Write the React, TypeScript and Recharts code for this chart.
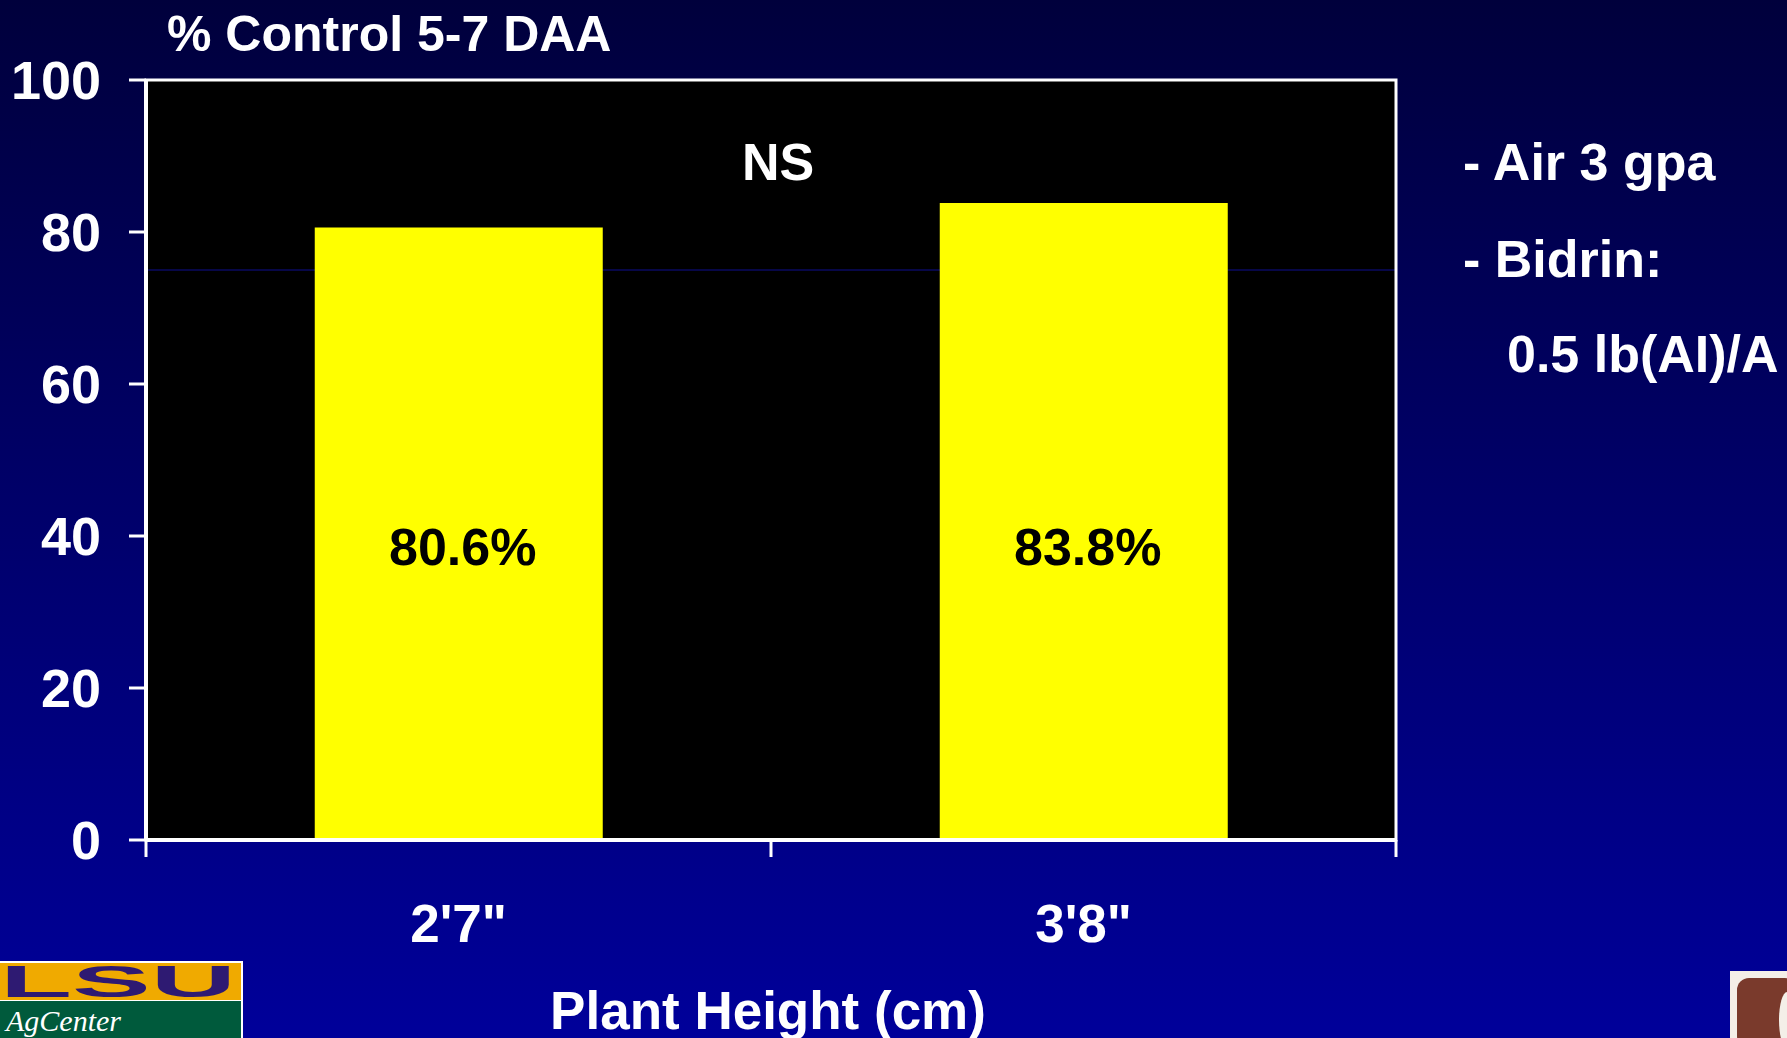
import React from 'react';
import { BarChart, Bar, XAxis, YAxis, CartesianGrid, LabelList, ReferenceArea } from 'recharts';

const categories = ["2'7\"", "3'8\""];
const controlValues = [80.6, 83.8];
const valueLabels = ['80.6%', '83.8%'];
const yTicks = [0, 20, 40, 60, 80, 100];
const gridValues = [75];
const title = '% Control 5-7 DAA';
const xTitle = 'Plant Height (cm)';
const sigLabel = 'NS';
const notes = ['- Air 3 gpa', '- Bidrin:', '0.5 lb(AI)/A'];

const data = categories.map((c, i) => ({ name: c, value: controlValues[i], label: valueLabels[i] }));

const W = 1787;
const H = 1038;
const FONT = '"Liberation Sans", Arial, sans-serif';
const TICK_LEN = 17;

const XTick = (props: any) => {
  const { x, y, payload, width, visibleTicksCount, index } = props;
  const n = visibleTicksCount || categories.length;
  const half = width / n / 2;
  return (
    <g>
      <line x1={x - half} x2={x - half} y1={y} y2={y + TICK_LEN} stroke="#fff" strokeWidth={3} />
      {index === n - 1 && (
        <line x1={x + half} x2={x + half} y1={y} y2={y + TICK_LEN} stroke="#fff" strokeWidth={3} />
      )}
      <text x={x} y={y + 83} textAnchor="middle" dominantBaseline="central" fill="#fff"
        fontSize={53} fontWeight="bold" fontFamily={FONT}>
        {payload.value}
      </text>
    </g>
  );
};

const BarLabel = (props: any) => {
  const { x, y, width, height, value } = props;
  return (
    <text x={x + width / 2 + 4} y={y + height - 293} textAnchor="middle" dominantBaseline="central"
      fill="#000" fontSize={52} fontWeight="bold" fontFamily={FONT}>
      {value}
    </text>
  );
};

export default function App() {
  return (
    <div style={{ position: 'fixed', left: 0, top: 0, width: W, height: H, overflow: 'hidden' }}>
      <svg width={W} height={H} style={{ position: 'absolute', left: 0, top: 0 }}>
        <defs>
          <linearGradient id="bg" x1="0" y1="0" x2="0" y2="1">
            <stop offset="0%" stopColor="#00003c" />
            <stop offset="100%" stopColor="#00009a" />
          </linearGradient>
        </defs>
        <rect x={0} y={0} width={W} height={H} fill="url(#bg)" />
        <text x={167} y={34} dominantBaseline="central" fill="#fff" fontSize={50} fontWeight="bold" fontFamily={FONT}>{title}</text>
        <text x={1463} y={162} dominantBaseline="central" fill="#fff" fontSize={52} fontWeight="bold" fontFamily={FONT}>{notes[0]}</text>
        <text x={1463} y={259} dominantBaseline="central" fill="#fff" fontSize={52} fontWeight="bold" fontFamily={FONT}>{notes[1]}</text>
        <text x={1507} y={354} dominantBaseline="central" fill="#fff" fontSize={52} fontWeight="bold" fontFamily={FONT}>{notes[2]}</text>
        <text x={768} y={1010} textAnchor="middle" dominantBaseline="central" fill="#fff" fontSize={53} fontWeight="bold" fontFamily={FONT}>{xTitle}</text>
        {/* LSU AgCenter logo approximation */}
        <rect x={-2} y={961} width={245} height={80} fill="#fff" />
        <rect x={0} y={963} width={241} height={37} fill="#f0aa00" />
        <rect x={0} y={1001} width={241} height={40} fill="#005a3c" />
        <text x={118} y={981} textAnchor="middle" dominantBaseline="central" fill="#2e1a72" fontSize={44} fontWeight="900" fontFamily={FONT} textLength={236} lengthAdjust="spacingAndGlyphs">LSU</text>
        <text x={6} y={1031} fill="#fff" fontSize={30} fontStyle="italic" fontFamily='"Liberation Serif", serif'>AgCenter</text>
        {/* right logo approximation */}
        <rect x={1730} y={971} width={60} height={70} fill="#f4efe8" />
        <rect x={1737} y={978} width={60} height={70} rx={12} fill="#7a3a2c" />
        <ellipse cx={1787} cy={1020} rx={8} ry={28} fill="#f4efe8" />
      </svg>
      <div style={{ position: 'absolute', left: 0, top: 0 }}>
        <BarChart width={W} height={H} data={data}
          margin={{ top: 80, right: 391, left: 0, bottom: 0 }} barCategoryGap="27%">
          <CartesianGrid fill="#000" vertical={false} horizontalValues={gridValues} stroke="#0a0a60" strokeWidth={1.5} />
          <XAxis dataKey="name" height={198} tickSize={0} tickMargin={0} tickLine={false}
            axisLine={{ stroke: '#fff', strokeWidth: 4 }} tick={<XTick />} interval={0} />
          <YAxis type="number" domain={[0, 100]} ticks={yTicks} interval={0} width={146}
            tickSize={17} tickMargin={28}
            axisLine={{ stroke: '#fff', strokeWidth: 4 }} tickLine={{ stroke: '#fff', strokeWidth: 3 }}
            tick={{ fill: '#fff', fontSize: 54, fontWeight: 'bold', fontFamily: FONT }} />
          <ReferenceArea y1={0} y2={100} fill="none" stroke="#fff" strokeWidth={3} ifOverflow="visible" />
          <Bar dataKey="value" fill="#ffff00" isAnimationActive={false}>
            <LabelList dataKey="label" content={<BarLabel />} />
          </Bar>
        </BarChart>
      </div>
      <svg width={W} height={200} style={{ position: 'absolute', left: 0, top: 0, pointerEvents: 'none' }}>
        <text x={778} y={162} textAnchor="middle" dominantBaseline="central" fill="#fff" fontSize={52} fontWeight="bold" fontFamily={FONT}>{sigLabel}</text>
      </svg>
    </div>
  );
}
